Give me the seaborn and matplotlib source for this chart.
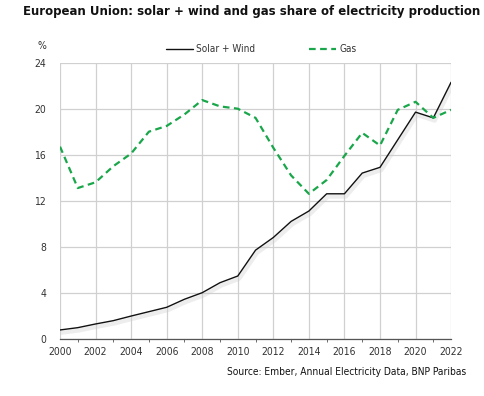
import pandas as pd
import matplotlib.pyplot as plt
import matplotlib.patheffects as pe
import seaborn as sns

# Data (share of EU electricity production, %)
years = list(range(2000, 2023))
solar_wind = [0.76, 0.96, 1.28, 1.57, 1.97, 2.35, 2.73, 3.43, 4.0, 4.87, 5.45,
              7.7, 8.8, 10.2, 11.1, 12.6, 12.6, 14.4, 14.9, 17.3, 19.7, 19.2, 22.3]
gas = [16.7, 13.1, 13.6, 15.0, 16.1, 18.0, 18.5, 19.5, 20.75, 20.2, 20.0,
       19.2, 16.6, 14.2, 12.6, 13.8, 15.9, 17.9, 16.8, 19.9, 20.6, 19.2, 19.9]
series_names = ['Solar + Wind', 'Gas']
x_ticks = list(range(2000, 2023, 2))
y_ticks = [0, 4, 8, 12, 16, 20, 24]

df = pd.DataFrame({'year': years * 2,
                   'share': solar_wind + gas,
                   'series': [series_names[0]] * len(years) + [series_names[1]] * len(years)})

sns.set_style('white')
plt.rcParams['font.family'] = ['DejaVu Sans']
plt.rcParams['font.stretch'] = 'condensed'

fig = plt.figure(figsize=(4.84, 3.96), dpi=100)
ax = fig.add_axes([0.124, 0.1447, 0.808, 0.697])

palette = {'Solar + Wind': '#111111', 'Gas': '#1aa64a'}
sns.lineplot(data=df, x='year', y='share', hue='series', style='series',
             palette=palette, dashes={'Solar + Wind': '', 'Gas': (3, 2)},
             ax=ax, legend=False)

lines = ax.get_lines()
lines[0].set_linewidth(1.0)
lines[0].set_path_effects([pe.SimpleLineShadow(offset=(1, -2), shadow_color='#cccccc', alpha=0.35, linewidth=3),
                           pe.Normal()])
lines[1].set_linewidth(1.6)

ax.set_xlim(2000, 2022)
ax.set_ylim(0, 24)
ax.set_xticks(x_ticks)
ax.set_xticks(years, minor=True)
ax.set_yticks(y_ticks)
ax.grid(True, which='major', color='#d0d0d0', linewidth=0.9)
ax.set_axisbelow(True)
for s in ['top', 'right', 'left']:
    ax.spines[s].set_visible(False)
ax.spines['bottom'].set_color('#555555')
ax.spines['bottom'].set_linewidth(0.9)
ax.tick_params(axis='x', which='major', direction='out', length=4, color='#555555',
               labelsize=7.5, labelcolor='#333333', pad=2)
ax.tick_params(axis='x', which='minor', direction='out', length=2.5, color='#555555', bottom=True)
ax.tick_params(axis='y', length=0, labelsize=7.5, labelcolor='#333333', pad=10)
ax.set_xlabel('')
ax.set_ylabel('')

# legend drawn in figure coords
fig.add_artist(plt.Line2D([166 / 484, 193 / 484], [1 - 49 / 396] * 2, color='#111111', lw=1.0))
fig.text(196 / 484, 1 - 49 / 396, 'Solar + Wind', fontsize=7.2, color='#333333', va='center')
fig.add_artist(plt.Line2D([309 / 484, 336 / 484], [1 - 49 / 396] * 2, color='#1aa64a', lw=1.6, dashes=(3, 2)))
fig.text(339 / 484, 1 - 49 / 396, 'Gas', fontsize=7.2, color='#333333', va='center')

fig.text(42 / 484, 1 - 46 / 396, '%', fontsize=7.5, color='#333333', ha='center', va='center')
fig.text(23 / 484, 1 - 12 / 396, 'European Union: solar + wind and gas share of electricity production',
         fontsize=9.35, fontweight='bold', color='#111111', va='center')
fig.text(466 / 484, 1 - 372 / 396, 'Source: Ember, Annual Electricity Data, BNP Paribas',
         fontsize=7.3, color='#111111', ha='right', va='center')

fig.savefig('out.png', dpi=100)
